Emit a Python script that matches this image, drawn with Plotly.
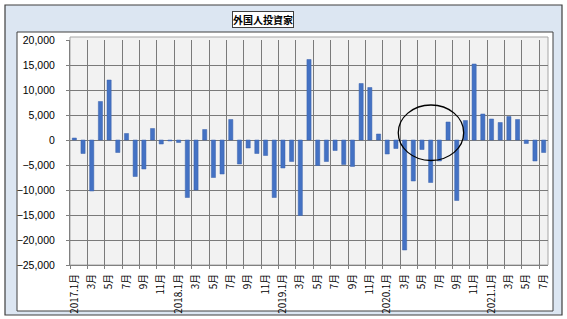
import numpy as np
import plotly.graph_objects as go

# ---- data ----
values_2017 = [400, -2700, -10200, 7700, 12000, -2500, 1300, -7300, -5800, 2300, -800, -200]
values_2018 = [-500, -11500, -10000, 2100, -7500, -6800, 4100, -4800, -1600, -2700, -3100, -11500]
values_2019 = [-5600, -4300, -15100, 16100, -5100, -4300, -2100, -4900, -5300, 11300, 10500, 1200]
values_2020 = [-2800, -1700, -22000, -8200, -1900, -8500, -4200, 3600, -12100, 3900, 15200, 5200]
values_2021 = [4200, 3500, 4700, 4100, -700, -4200, -2500]
values = values_2017 + values_2018 + values_2019 + values_2020 + values_2021

tick_labels = ["2017.1月", "3月", "5月", "7月", "9月", "11月",
               "2018.1月", "3月", "5月", "7月", "9月", "11月",
               "2019.1月", "3月", "5月", "7月", "9月", "11月",
               "2020.1月", "3月", "5月", "7月", "9月", "11月",
               "2021.1月", "3月", "5月", "7月"]
title_text = "外国人投資家"
y_ticks = [20000, 15000, 10000, 5000, 0, -5000, -10000, -15000, -20000, -25000]

n = len(values)
x = list(range(n))
tick_pos = x[::2]
bounds = list(np.arange(-0.5, n, 2))

W, H = 567, 319
L, R, T, B = 70, 548, 40, 265  # plot area pixels


def px(xp):
    return (xp - L) / (R - L)


def py(yp):
    return (B - yp) / (B - T)


FONT = "Liberation Sans, Arial, Noto Sans CJK JP"
GRID = "#7a7a7a"

fig = go.Figure()
fig.add_trace(go.Bar(x=x, y=values, marker=dict(color="#4472c4", line=dict(color="#3a62ad", width=0.5)),
                     width=0.48, showlegend=False))
# invisible trace for the label axis
fig.add_trace(go.Scatter(x=[None], y=[None], xaxis="x2", showlegend=False, hoverinfo="skip"))

shapes = [
    dict(type="rect", xref="paper", yref="paper", x0=px(5), x1=px(562), y0=py(5), y1=py(315),
         line=dict(color="#3f3f3f", width=1.2), fillcolor="#dce6f2", layer="below"),
    dict(type="rect", xref="paper", yref="paper", x0=px(17), x1=px(553), y0=py(32), y1=py(311),
         line=dict(color="#404040", width=1), fillcolor="#ffffff", layer="below"),
    dict(type="rect", xref="paper", yref="paper", x0=0, x1=1, y0=0, y1=py(37),
         line=dict(color="#a6a6a6", width=1), fillcolor="#f2f2f2", layer="below"),
    dict(type="circle", xref="x", yref="y", x0=37.27, x1=44.8, y0=-4100, y1=7000,
         line=dict(color="#000000", width=1.3), fillcolor="rgba(0,0,0,0)"),
]

fig.update_layout(
    width=W, height=H,
    margin=dict(l=L, r=W - R, t=T, b=H - B, pad=0, autoexpand=False),
    paper_bgcolor="#ffffff",
    plot_bgcolor="rgba(0,0,0,0)",
    font=dict(family=FONT, size=10, color="#000000"),
    shapes=shapes,
    xaxis=dict(range=[-0.5, n - 0.5], tickmode="array", tickvals=bounds, showticklabels=False,
               showgrid=True, gridcolor=GRID, gridwidth=1, ticks="outside", ticklen=3,
               tickcolor="#808080", zeroline=False, showline=True, linecolor="#808080",
               automargin=False),
    xaxis2=dict(range=[-0.5, n - 0.5], overlaying="x", anchor="y", side="bottom",
                tickmode="array", tickvals=tick_pos, ticktext=tick_labels,
                tickangle=-90, showgrid=False, zeroline=False, ticks="", showline=False,
                ticklabelstandoff=6, automargin=False,
                tickfont=dict(size=9.8, family="Noto Sans CJK JP, Liberation Sans")),
    yaxis=dict(range=[-25000, 20000], tickmode="array", tickvals=y_ticks, tickformat=",",
               showgrid=True, gridcolor=GRID, gridwidth=1, zeroline=True,
               zerolinecolor=GRID, zerolinewidth=1, ticks="outside", ticklen=3,
               tickcolor="#808080", showline=True, linecolor="#808080",
               ticklabelstandoff=9, tickfont=dict(size=10.5), automargin=False),
    annotations=[dict(text="<b>" + title_text + "</b>", xref="paper", yref="paper", x=px(262.5), y=py(19.5),
                      showarrow=False, xanchor="center", yanchor="middle",
                      font=dict(size=10, family="Noto Sans CJK JP", color="#000000"),
                      bgcolor="#ffffff", bordercolor="#404040", borderwidth=1, borderpad=0)],
)

fig.write_html("out.html")
